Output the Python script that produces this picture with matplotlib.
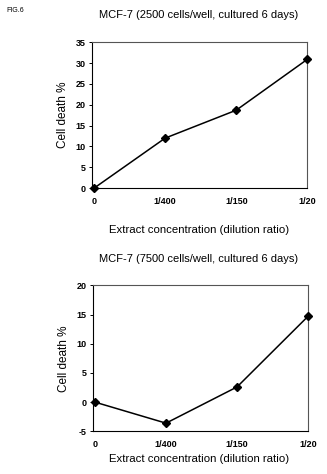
import matplotlib
matplotlib.use("Agg")
import matplotlib.pyplot as plt
from matplotlib import font_manager

categories = ["0", "1/400", "1/150", "1/20"]
death_2500 = [0, 12.0, 18.7, 30.9]
death_7500 = [0, -3.6, 2.6, 14.7]
title_top = "MCF-7 (2500 cells/well, cultured 6 days)"
title_bottom = "MCF-7 (7500 cells/well, cultured 6 days)"
ylabel = "Cell death %"
xlabel = "Extract concentration (dilution ratio)"

names = {f.name for f in font_manager.fontManager.ttflist}
main_font = "Liberation Sans" if "Liberation Sans" in names else "DejaVu Sans"
tick_font = "Liberation Sans Narrow" if "Liberation Sans Narrow" in names else main_font
plt.rcParams["font.family"] = [main_font]
plt.rcParams["axes.unicode_minus"] = False

fig = plt.figure(figsize=(3.27, 4.74), dpi=100)
fig.patch.set_facecolor("white")

def draw(rect, vals, ylim, yticks, title, title_y, xlabel_y):
    ax = fig.add_axes(rect)
    x = list(range(len(categories)))
    ax.plot(x, vals, color="black", lw=1.1, marker="D", markersize=4.5,
            clip_on=False, zorder=3)
    ax.set_xlim(-0.03, 3.0)
    ax.set_ylim(*ylim)
    ax.set_yticks(yticks)
    ax.set_xticks(x)
    ax.set_xticklabels(categories)
    for s in ax.spines.values():
        s.set_color("#555555")
        s.set_linewidth(0.8)
    ax.spines["left"].set_color("black")
    ax.spines["bottom"].set_color("black")
    ax.tick_params(axis="y", length=2.5, width=0.7, pad=2, labelsize=6.5)
    ax.tick_params(axis="x", length=0, pad=6, labelsize=6.5)
    for lab in ax.get_xticklabels() + ax.get_yticklabels():
        lab.set_fontfamily(tick_font)
        lab.set_fontweight("bold")
    ax.set_ylabel(ylabel, fontsize=8.5, labelpad=5)
    fig.text(0.607, title_y, title, fontsize=8, ha="center", va="center")
    fig.text(0.61, xlabel_y, xlabel, fontsize=8.2, ha="center", va="center")
    return ax

draw([0.281, 0.603, 0.659, 0.308], death_2500, (0, 35), range(0, 36, 5),
     title_top, 1 - 15 / 474, 1 - 230 / 474)
draw([0.284, 0.090, 0.658, 0.308], death_7500, (-5, 20), range(-5, 21, 5),
     title_bottom, 1 - 259 / 474, 1 - 459 / 474)

fig.text(0.02, 1 - 10 / 474, "FIG.6", fontsize=5, ha="left", va="center")

fig.savefig("out.png", dpi=100)
